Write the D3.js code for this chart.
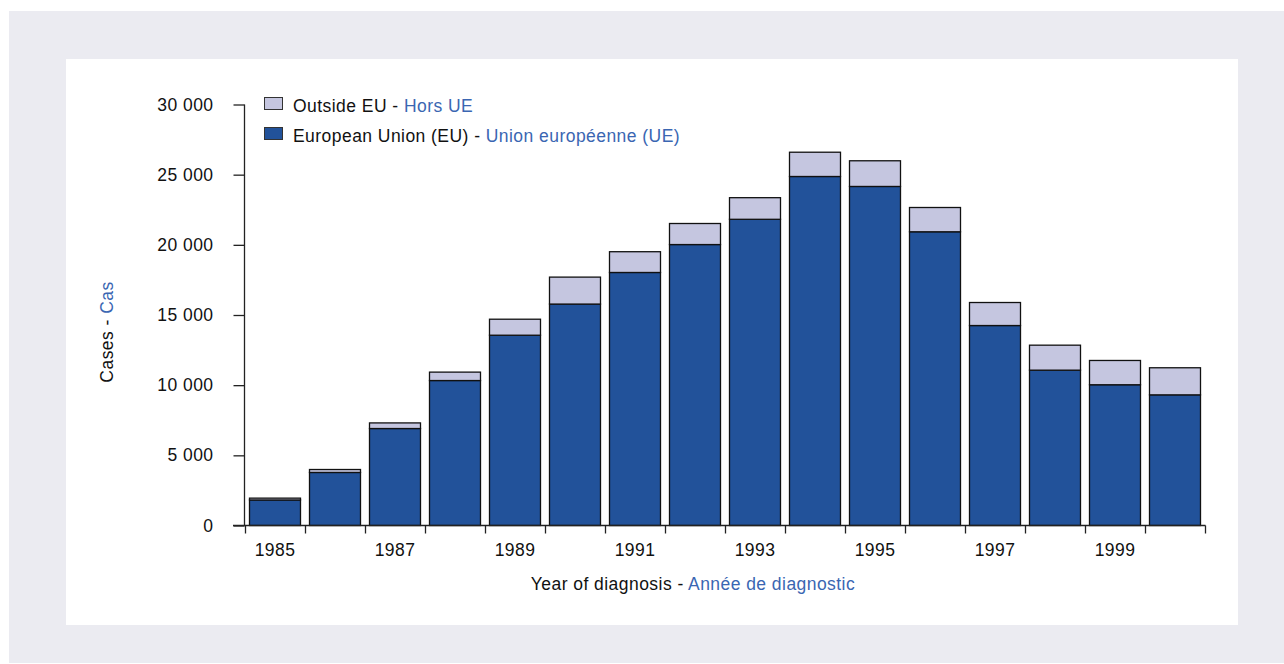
<!DOCTYPE html>
<html>
<head>
<meta charset="utf-8">
<script src="https://cdn.jsdelivr.net/npm/d3@7"></script>
<style>
  body { margin: 0; background: #fff; }
  svg text { font-family: "Liberation Sans", Arial, sans-serif; letter-spacing: 0.45px; }
</style>
</head>
<body>
<div id="chart"></div>
<script>
// data
var years = [1985, 1986, 1987, 1988, 1989, 1990, 1991, 1992, 1993, 1994, 1995, 1996, 1997, 1998, 1999, 2000];
var euCases = [1820, 3780, 6910, 10330, 13560, 15780, 18030, 20020, 21820, 24870, 24160, 20930, 14250, 11070, 10030, 9310];
var outsideCases = [130, 210, 400, 600, 1140, 1920, 1480, 1500, 1540, 1730, 1830, 1730, 1640, 1780, 1730, 1930];
var yTicks = [0, 5000, 10000, 15000, 20000, 25000, 30000];
var seriesKeys = ["eu", "outside"];

var width = 1284, height = 664;
var blue = "#22529a", lilac = "#c5c6e0", textBlue = "#3a66b2";
var fs = "17.5px";

var svg = d3.select("#chart").append("svg")
  .attr("width", width)
  .attr("height", height);

// grey frame + white panel
svg.append("rect").attr("x", 9).attr("y", 11).attr("width", width - 9).attr("height", 652).attr("fill", "#ebebf1");
svg.append("rect").attr("x", 66).attr("y", 59).attr("width", 1172).attr("height", 566).attr("fill", "#fff");

var x = d3.scaleBand()
  .domain(years)
  .range([245, 1205])
  .paddingInner(0.15)
  .paddingOuter(0.075);

var y = d3.scaleLinear()
  .domain([0, 30000])
  .range([525.5, 104.5]);

var table = years.map(function (yr, i) {
  return { year: yr, eu: euCases[i], outside: outsideCases[i] };
});
var stacked = d3.stack().keys(seriesKeys)(table);
var color = d3.scaleOrdinal().domain(seriesKeys).range([blue, lilac]);

svg.append("g")
  .selectAll("g")
  .data(stacked)
  .enter().append("g")
  .attr("fill", function (d) { return color(d.key); })
  .selectAll("rect")
  .data(function (d) { return d; })
  .enter().append("rect")
  .attr("x", function (d) { return x(d.data.year); })
  .attr("y", function (d) { return y(d[1]); })
  .attr("width", x.bandwidth())
  .attr("height", function (d) { return y(d[0]) - y(d[1]); })
  .attr("stroke", "#111")
  .attr("stroke-width", 1.3);

// y axis
var yAxis = svg.append("g")
  .attr("transform", "translate(244.5,0)")
  .call(d3.axisLeft(y)
    .tickValues(yTicks)
    .tickSize(11)
    .tickPadding(20)
    .tickFormat(function (d) { return d3.format(",")(d).replace(",", " "); }));
yAxis.select(".domain").attr("stroke", "#222").attr("stroke-width", 1.3).attr("d", "M0,104.5V525.5");
yAxis.selectAll(".tick line").attr("stroke", "#222").attr("stroke-width", 1.3);
yAxis.selectAll("text").attr("font-size", fs).attr("fill", "#111");

// x axis: ticks on band edges, labels every other year
var edges = years.map(function (yr) { return x(yr) - x.step() * x.paddingInner() / 2; });
edges.push(1205);
var xAxis = svg.append("g").attr("transform", "translate(0,525.5)");
xAxis.append("line").attr("x1", 233).attr("x2", 1205.5).attr("stroke", "#222").attr("stroke-width", 1.3);
xAxis.selectAll(".edge")
  .data(edges)
  .enter().append("line")
  .attr("class", "edge")
  .attr("x1", function (d) { return Math.round(d) + 0.5; })
  .attr("x2", function (d) { return Math.round(d) + 0.5; })
  .attr("y1", 0).attr("y2", 8)
  .attr("stroke", "#222").attr("stroke-width", 1.3);
xAxis.selectAll(".lbl")
  .data(years.filter(function (yr, i) { return i % 2 === 0; }))
  .enter().append("text")
  .attr("class", "lbl")
  .attr("x", function (d) { return x(d) + x.bandwidth() / 2; })
  .attr("y", 30)
  .attr("text-anchor", "middle")
  .attr("font-size", fs)
  .attr("fill", "#111")
  .text(function (d) { return d; });

// axis titles
var xt = svg.append("text")
  .attr("x", 693).attr("y", 590)
  .attr("text-anchor", "middle")
  .attr("font-size", fs)
  .attr("fill", "#111");
xt.append("tspan").text("Year of diagnosis - ");
xt.append("tspan").attr("fill", textBlue).text("Année de diagnostic");

var yt = svg.append("text")
  .attr("transform", "translate(113,332) rotate(-90)")
  .attr("text-anchor", "middle")
  .attr("font-size", fs)
  .attr("fill", "#111");
yt.append("tspan").text("Cases - ");
yt.append("tspan").attr("fill", textBlue).text("Cas");

// legend
var legendItems = [
  { key: "outside", en: "Outside EU - ", fr: "Hors UE", y: 97 },
  { key: "eu", en: "European Union (EU) - ", fr: "Union européenne (UE)", y: 127 }
];
var leg = svg.selectAll(".leg")
  .data(legendItems)
  .enter().append("g")
  .attr("class", "leg")
  .attr("transform", function (d) { return "translate(264," + d.y + ")"; });
leg.append("rect")
  .attr("x", 0.5).attr("y", 0.5)
  .attr("width", 18).attr("height", 12)
  .attr("fill", function (d) { return color(d.key); })
  .attr("stroke", "#333")
  .attr("stroke-width", 1);
var lt = leg.append("text")
  .attr("x", 29).attr("y", 14.5)
  .attr("font-size", fs)
  .attr("fill", "#111");
lt.append("tspan").text(function (d) { return d.en; });
lt.append("tspan").attr("fill", textBlue).text(function (d) { return d.fr; });
</script>
</body>
</html>
